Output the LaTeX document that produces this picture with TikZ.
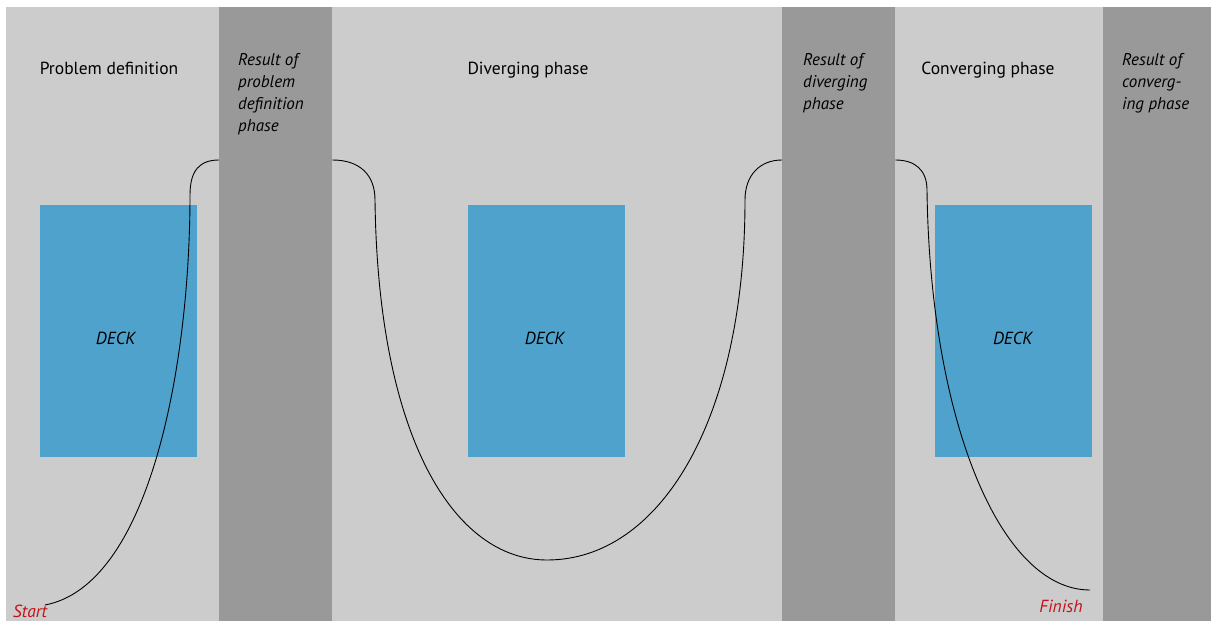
\documentclass[tikz,border=0pt]{standalone}
\usepackage{fontspec}
\setmainfont{PT Sans}
\usepackage{tikz}
\usetikzlibrary{positioning,calc}
\definecolor{lightgrey}{RGB}{204,204,204}
\definecolor{darkgrey}{RGB}{153,153,153}
\definecolor{deckblue}{RGB}{79,162,204}
\definecolor{markred}{RGB}{200,16,24}

\begin{document}
\begin{tikzpicture}[x=1pt, y=-1pt, font=\fontsize{17.5}{22}\selectfont]
\tikzstyle{result} = [rectangle, fill=darkgrey, inner sep=0pt, minimum width=113pt, minimum height=614pt, anchor=north west]
\tikzstyle{deck} = [rectangle, fill=deckblue, inner sep=0pt, minimum width=157pt, minimum height=252pt, anchor=north west]
\tikzstyle{decklabel} = [inner sep=0pt, anchor=base, font=\fontsize{17.5}{22}\selectfont\itshape]
\tikzstyle{phase} = [inner sep=0pt, anchor=base]
\tikzstyle{resultlabel} = [inner sep=0pt, anchor=north west, align=left, font=\fontsize{17}{22}\selectfont\itshape]
\tikzstyle{endlabel} = [inner sep=0pt, anchor=base, text=markred, font=\fontsize{17.5}{22}\selectfont\itshape]
\tikzstyle{route} = [black, line width=0.9pt]

\useasboundingbox (0,0) rectangle (1211,621);
\fill[white] (0,0) rectangle (1211,621);
\fill[lightgrey] (6,7) rectangle (1211,621);

% result columns
\node (ResultProblem) [result] at (219,7) {};
\node (ResultDiverging) [result] at (782,7) {};
\node (ResultConverging) [result, minimum width=108pt] at (1103,7) {};

% decks
\node (DeckProblem) [deck] at (40,205) {};
\node (DeckDiverging) [deck] at (468,205) {};
\node (DeckConverging) [deck] at (935,205) {};
\node [decklabel] at ($(DeckProblem.center)+(-3,13)$) {DECK};
\node [decklabel] at ($(DeckDiverging.center)+(-2,13)$) {DECK};
\node [decklabel] at ($(DeckConverging.center)+(-1,13)$) {DECK};

% phase titles
\node (Problem) [phase] at (109,74) {Problem definition};
\node (Diverging) [phase] at (528,74) {Diverging phase};
\node (Converging) [phase] at (988,74) {Converging phase};

\node (ProblemLabel) [resultlabel] at (238,53) {Result of\\problem\\definition\\phase};
\node (DivergingLabel) [resultlabel] at (803,53) {Result of\\diverging\\phase};
\node (ConvergingLabel) [resultlabel] at (1122,53) {Result of\\converg-\\ing phase};

\node (Start) [endlabel] at (30,617) {Start};
\node (Finish) [endlabel] at (1061,612) {Finish};

% the route
\coordinate (StartPt) at (45,605);
\coordinate (FinishPt) at (1090,590);
\coordinate (InProblem) at ($(ResultProblem.north west)+(0,153)$);
\coordinate (OutProblem) at ($(ResultProblem.north east)+(0,153)$);
\coordinate (InDiverging) at ($(ResultDiverging.north west)+(0,153)$);
\coordinate (OutDiverging) at ($(ResultDiverging.north east)+(0,153)$);

\draw [route] (StartPt) .. controls (150,585) and (190,365) .. (190,195)
  .. controls (190,170) and (200,160) .. (InProblem);
\draw [route] (OutProblem) .. controls (360,160) and (375,175) .. (375,200)
  .. controls (378,440) and (455,560) .. (547,560)
  .. controls (660,560) and (745,420) .. (745,200)
  .. controls (745,175) and (760,160) .. (InDiverging);
\draw [route] (OutDiverging) .. controls (915,160) and (927,170) .. (927,190)
  .. controls (930,420) and (1000,590) .. (FinishPt);
\end{tikzpicture}
\end{document}
